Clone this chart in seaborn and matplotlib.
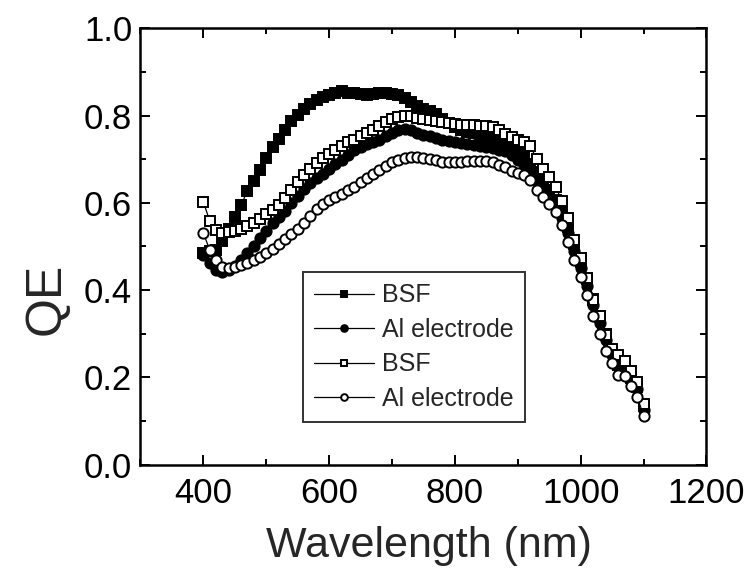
import numpy as np
import pandas as pd
import matplotlib
matplotlib.use("Agg")
import matplotlib.pyplot as plt
import seaborn as sns
from matplotlib.ticker import MultipleLocator

wavelength = list(range(400, 1101, 10))

bsf_filled = [0.486, 0.490, 0.492, 0.513, 0.539, 0.568, 0.596, 0.626, 0.650, 0.675,
              0.703, 0.727, 0.746, 0.767, 0.788, 0.801, 0.815, 0.827, 0.836, 0.843,
              0.848, 0.852, 0.856, 0.852, 0.851, 0.850, 0.848, 0.849, 0.851, 0.851,
              0.849, 0.846, 0.840, 0.831, 0.822, 0.816, 0.811, 0.803, 0.793, 0.782,
              0.773, 0.767, 0.763, 0.759, 0.756, 0.753, 0.749, 0.744, 0.738, 0.730,
              0.720, 0.707, 0.690, 0.670, 0.650, 0.630, 0.606, 0.580, 0.545, 0.505,
              0.465, 0.425, 0.380, 0.338, 0.300, 0.262, 0.228, 0.222, 0.198, 0.178,
              0.135]

al_filled = [0.480, 0.461, 0.446, 0.442, 0.445, 0.455, 0.470, 0.486, 0.502, 0.519,
             0.536, 0.553, 0.568, 0.582, 0.600, 0.616, 0.631, 0.645, 0.656, 0.667,
             0.678, 0.688, 0.698, 0.710, 0.720, 0.729, 0.735, 0.740, 0.745, 0.752,
             0.760, 0.766, 0.770, 0.766, 0.760, 0.756, 0.752, 0.748, 0.745, 0.742,
             0.740, 0.738, 0.735, 0.732, 0.730, 0.728, 0.725, 0.722, 0.718, 0.710,
             0.698, 0.688, 0.672, 0.652, 0.632, 0.612, 0.592, 0.565, 0.530, 0.490,
             0.450, 0.410, 0.365, 0.325, 0.285, 0.250, 0.225, 0.220, 0.192, 0.172,
             0.125]

bsf_open = [0.602, 0.559, 0.537, 0.530, 0.532, 0.535, 0.540, 0.547, 0.554, 0.563,
            0.574, 0.584, 0.595, 0.612, 0.630, 0.648, 0.663, 0.677, 0.691, 0.703,
            0.712, 0.720, 0.730, 0.739, 0.745, 0.752, 0.759, 0.767, 0.777, 0.785,
            0.792, 0.796, 0.799, 0.798, 0.794, 0.792, 0.790, 0.787, 0.785, 0.783,
            0.780, 0.779, 0.778, 0.778, 0.777, 0.776, 0.774, 0.766, 0.757, 0.750,
            0.745, 0.740, 0.730, 0.700, 0.678, 0.658, 0.637, 0.605, 0.565, 0.515,
            0.474, 0.428, 0.377, 0.340, 0.296, 0.265, 0.250, 0.238, 0.214, 0.189,
            0.138]

al_open = [0.531, 0.492, 0.469, 0.453, 0.450, 0.453, 0.457, 0.462, 0.470, 0.476,
           0.486, 0.494, 0.505, 0.516, 0.528, 0.540, 0.553, 0.570, 0.585, 0.597,
           0.606, 0.614, 0.621, 0.629, 0.637, 0.647, 0.656, 0.667, 0.675, 0.685,
           0.693, 0.699, 0.703, 0.705, 0.704, 0.702, 0.700, 0.697, 0.694, 0.693,
           0.694, 0.694, 0.695, 0.696, 0.696, 0.696, 0.693, 0.687, 0.681, 0.674,
           0.669, 0.664, 0.652, 0.630, 0.614, 0.597, 0.580, 0.550, 0.510, 0.468,
           0.430, 0.388, 0.340, 0.300, 0.260, 0.232, 0.205, 0.202, 0.180, 0.155,
           0.112]

labels = ["BSF", "Al electrode", "BSF", "Al electrode"]
series = [bsf_filled, al_filled, bsf_open, al_open]
markers = ["s", "o", "s", "o"]
faces = ["black", "black", "white", "white"]

sns.set_theme(style="ticks")
plt.rcParams["font.family"] = ["Liberation Sans", "DejaVu Sans"]

fig = plt.figure(figsize=(7.46, 5.71), dpi=100)
ax = fig.add_axes([0.1883, 0.1865, 0.947 - 0.1883, 0.9504 - 0.1865])

for lab, vals, mk, fc in zip(labels, series, markers, faces):
    df = pd.DataFrame({"Wavelength": wavelength, "QE": vals})
    sns.lineplot(data=df, x="Wavelength", y="QE", ax=ax, color="black",
                 linewidth=0.9, marker=mk, markersize=7.4,
                 markerfacecolor=fc, markeredgecolor="black",
                 markeredgewidth=1.4, label=lab)

ax.set_xlim(300, 1200)
ax.set_ylim(0.0, 1.0)
ax.xaxis.set_minor_locator(MultipleLocator(100))
ax.yaxis.set_major_locator(MultipleLocator(0.2))
ax.yaxis.set_minor_locator(MultipleLocator(0.1))
ax.set_xticks([400, 600, 800, 1000, 1200])
ax.yaxis.set_major_formatter(matplotlib.ticker.FormatStrFormatter("%.1f"))

ax.tick_params(which="both", direction="in", top=True, right=True,
               width=1.4, colors="black")
ax.tick_params(which="major", length=7, labelsize=25)
ax.tick_params(axis="x", which="major", pad=9)
ax.tick_params(axis="y", which="major", pad=6)
ax.tick_params(which="minor", length=4)
for sp in ax.spines.values():
    sp.set_linewidth(1.8)
    sp.set_color("black")

ax.set_xlabel("Wavelength (nm)", fontsize=31)
ax.xaxis.set_label_coords(0.51, -0.14)
ax.set_ylabel("QE", fontsize=36)
ax.yaxis.set_label_coords(-0.125, 0.38)

leg = ax.legend(loc="lower left", bbox_to_anchor=(0.287, 0.097),
                borderaxespad=0, frameon=True, fancybox=False,
                fontsize=18, markerscale=0.65, handlelength=2.4,
                handletextpad=0.3, labelspacing=0.42, borderpad=0.45)
leg.get_frame().set_edgecolor("black")
leg.get_frame().set_linewidth(1.4)

fig.savefig("out.png", dpi=100)
